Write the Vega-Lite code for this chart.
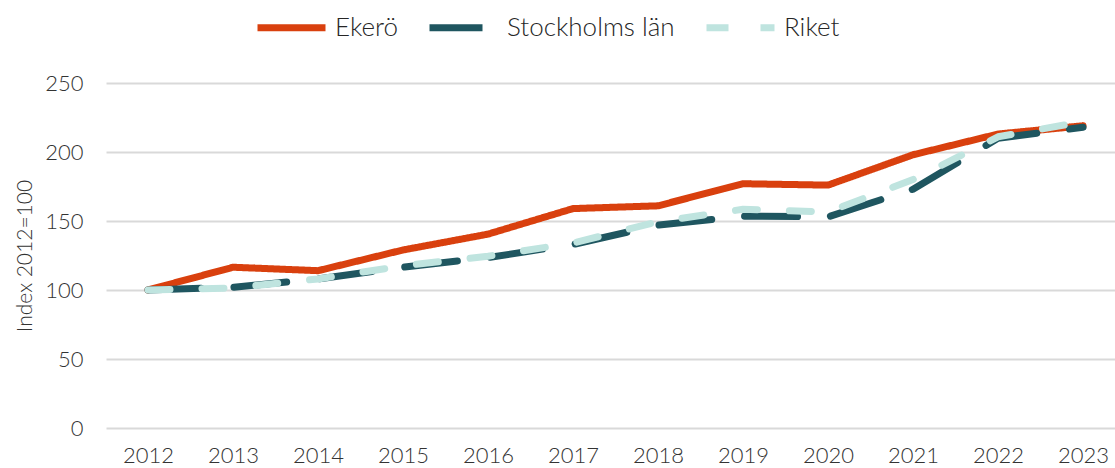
{
  "$schema": "https://vega.github.io/schema/vega-lite/v6.json",
  "width": 1009,
  "height": 345,
  "autosize": {"type": "none"},
  "padding": {"left": 106, "top": 83, "right": 0, "bottom": 40},
  "background": "white",
  "config": {
    "view": {"stroke": null},
    "font": "Lato",
    "axis": {"labelFont": "Lato", "labelFontWeight": 300, "labelFontSize": 22, "labelColor": "#333333", "titleFont": "Lato", "titleFontWeight": 300, "titleColor": "#333333"}
  },
  "data": {
    "values": [
      {"year": 2012, "series": "Ekerö", "value": 100},
      {"year": 2013, "series": "Ekerö", "value": 116.5},
      {"year": 2014, "series": "Ekerö", "value": 114},
      {"year": 2015, "series": "Ekerö", "value": 129},
      {"year": 2016, "series": "Ekerö", "value": 140.5},
      {"year": 2017, "series": "Ekerö", "value": 159},
      {"year": 2018, "series": "Ekerö", "value": 161},
      {"year": 2019, "series": "Ekerö", "value": 177},
      {"year": 2020, "series": "Ekerö", "value": 176},
      {"year": 2021, "series": "Ekerö", "value": 198},
      {"year": 2022, "series": "Ekerö", "value": 213},
      {"year": 2023, "series": "Ekerö", "value": 219},
      {"year": 2012, "series": "Stockholms län", "value": 100},
      {"year": 2013, "series": "Stockholms län", "value": 102},
      {"year": 2014, "series": "Stockholms län", "value": 108},
      {"year": 2015, "series": "Stockholms län", "value": 116.5},
      {"year": 2016, "series": "Stockholms län", "value": 123.5},
      {"year": 2017, "series": "Stockholms län", "value": 133},
      {"year": 2018, "series": "Stockholms län", "value": 147},
      {"year": 2019, "series": "Stockholms län", "value": 153.5},
      {"year": 2020, "series": "Stockholms län", "value": 153},
      {"year": 2021, "series": "Stockholms län", "value": 173},
      {"year": 2022, "series": "Stockholms län", "value": 210},
      {"year": 2023, "series": "Stockholms län", "value": 218},
      {"year": 2012, "series": "Riket", "value": 100},
      {"year": 2013, "series": "Riket", "value": 101.5},
      {"year": 2014, "series": "Riket", "value": 108},
      {"year": 2015, "series": "Riket", "value": 117.5},
      {"year": 2016, "series": "Riket", "value": 124.5},
      {"year": 2017, "series": "Riket", "value": 134},
      {"year": 2018, "series": "Riket", "value": 149.5},
      {"year": 2019, "series": "Riket", "value": 158.5},
      {"year": 2020, "series": "Riket", "value": 156.5},
      {"year": 2021, "series": "Riket", "value": 180},
      {"year": 2022, "series": "Riket", "value": 211},
      {"year": 2023, "series": "Riket", "value": 222}
    ]
  },
  "mark": {"type": "line", "strokeWidth": 7, "strokeCap": "round", "strokeJoin": "round"},
  "encoding": {
    "x": {
      "field": "year", "type": "quantitative",
      "scale": {"domain": [2011.506, 2023.376], "nice": false, "zero": false},
      "axis": {"values": [2012,2013,2014,2015,2016,2017,2018,2019,2020,2021,2022,2023], "format": "d", "grid": false, "domain": false, "ticks": false, "labelPadding": 17, "title": null, "labelFlush": false}
    },
    "y": {
      "field": "value", "type": "quantitative",
      "scale": {"domain": [0, 250], "nice": false},
      "axis": {"values": [0,50,100,150,200,250], "domain": false, "ticks": false, "grid": true, "gridColor": "#d9d9d9", "gridWidth": 2, "labelPadding": 23, "title": "Index 2012=100", "titleFontSize": 21, "titlePadding": 9}
    },
    "color": {
      "field": "series", "type": "nominal",
      "scale": {"domain": ["Ekerö", "Stockholms län", "Riket"], "range": ["#D9400E", "#1F5660", "#BFE4DF"]},
      "legend": {"title": null, "orient": "none", "legendX": 148, "legendY": -93, "direction": "horizontal", "symbolType": "stroke", "symbolSize": 4624, "symbolStrokeWidth": 7, "labelFontSize": 26, "labelFont": "Lato", "labelFontWeight": 300, "labelColor": "#262626", "labelLimit": 400, "columnPadding": 17, "labelOffset": 6, "padding": 0}
    },
    "strokeDash": {
      "field": "series", "type": "nominal",
      "scale": {"domain": ["Ekerö", "Stockholms län", "Riket"], "range": [[1, 0], [53, 33], [22, 32]]},
      "legend": {"title": null, "orient": "none", "legendX": 148, "legendY": -93, "direction": "horizontal", "symbolType": "stroke", "symbolSize": 4624, "symbolStrokeWidth": 7, "labelFontSize": 26, "labelFont": "Lato", "labelFontWeight": 300, "labelColor": "#262626", "labelLimit": 400, "columnPadding": 17, "labelOffset": 6, "padding": 0}
    },
    "order": {"field": "year"}
  }
}
